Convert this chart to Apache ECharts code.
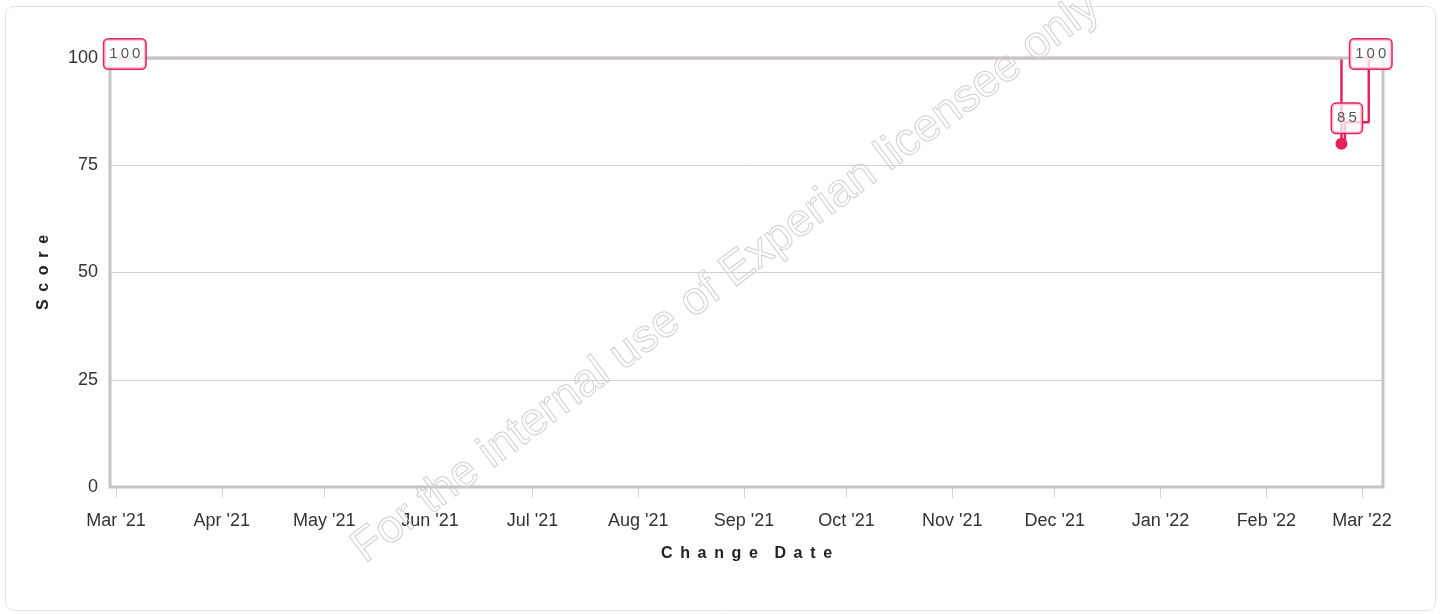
<!DOCTYPE html>
<html>
<head>
<meta charset="utf-8">
<script src="https://cdn.jsdelivr.net/npm/echarts@6/dist/echarts.min.js"></script>
<style>
html,body{margin:0;padding:0;background:#fff;}
#chart{width:1447px;height:614px;}
</style>
</head>
<body>
<div id="chart"></div>
<script>
// ---- data ----
const dates = ['2021-03-03', '2022-02-23', '2022-02-24', '2022-03-03'];
const scores = [100, 80, 85, 100];
const currentIndex = 1; // highlighted point (solid dot, no label)
const tickDates = ['2021-03-01','2021-04-01','2021-05-01','2021-06-01','2021-07-01','2021-08-01','2021-09-01','2021-10-01','2021-11-01','2021-12-01','2022-01-01','2022-02-01','2022-03-01'];
const tickLabels = ["Mar '21","Apr '21","May '21","Jun '21","Jul '21","Aug '21","Sep '21","Oct '21","Nov '21","Dec '21","Jan '22","Feb '22","Mar '22"];
const yTicks = [0, 25, 50, 75, 100];
const xAxisName = 'Change Date';
const yAxisName = 'Score';
const watermark = 'For the internal use of Experian licensee only';

function parseDay(s, h) {
  const p = s.split('-').map(Number);
  return new Date(p[0], p[1] - 1, p[2], h || 0).getTime();
}
function spaced(str) {
  return str.split(' ').map(w => w.split('').join(' \u2009')).join('  \u2009 ');
}

const tickTimes = tickDates.map(d => parseDay(d));
const xMin = parseDay('2021-02-27', 6);
const xMax = parseDay('2022-03-07', 4);
const RED = '#e5225a';

const linePairs = dates.map((d, i) => [parseDay(d), scores[i]]);
const pointData = dates.map((d, i) => {
  const isCur = i === currentIndex;
  return {
    value: [parseDay(d), scores[i]],
    symbolSize: isCur ? 12 : 11,
    itemStyle: { color: isCur ? RED : 'rgba(240,120,150,0.35)', opacity: 1 },
    label: { show: !isCur }
  };
});

const chart = echarts.init(document.getElementById('chart'), null, { renderer: 'canvas' });
chart.setOption({
  animation: false,
  grid: {
    left: 110, right: 64, top: 58, bottom: 127,
    show: true, z: 2,
    borderColor: '#c4c4c4', borderWidth: 3,
    backgroundColor: 'transparent'
  },
  xAxis: {
    type: 'value',
    min: xMin, max: xMax,
    scale: true,
    name: spaced(xAxisName),
    nameLocation: 'middle',
    nameGap: 59,
    nameTextStyle: { fontFamily: 'Liberation Sans', fontSize: 16, fontWeight: 'bold', color: '#222' },
    axisLine: { show: false },
    splitLine: { show: false },
    axisTick: {
      show: true, length: 11, customValues: tickTimes,
      lineStyle: { color: '#ccd6eb', width: 1 }
    },
    axisLabel: {
      customValues: tickTimes,
      margin: 25,
      fontFamily: 'Liberation Sans', fontSize: 18, color: '#333',
      formatter: function (v) {
        const i = tickTimes.indexOf(v);
        return i >= 0 ? tickLabels[i] : '';
      }
    }
  },
  yAxis: {
    type: 'value',
    min: yTicks[0], max: yTicks[yTicks.length - 1], interval: 25,
    name: spaced(yAxisName),
    nameLocation: 'middle',
    nameGap: 58,
    nameTextStyle: { fontFamily: 'Liberation Sans', fontSize: 16, fontWeight: 'bold', color: '#222' },
    axisLine: { show: false },
    axisTick: { show: false },
    splitLine: { show: true, lineStyle: { color: '#d0d0d0', width: 1 } },
    axisLabel: { margin: 12, fontFamily: 'Liberation Sans', fontSize: 18, color: '#333' }
  },
  series: [
    {
      type: 'line',
      step: 'end',
      z: 1,
      silent: true,
      showSymbol: false,
      symbol: 'none',
      data: linePairs,
      lineStyle: { color: RED, width: 2.5 }
    },
    {
      type: 'scatter',
      z: 3,
      symbol: 'circle',
      data: pointData,
      label: {
        position: 'inside',
        offset: [2, -4],
        formatter: function (p) { return String(p.value[1]).split('').join('\u2009'); },
        fontFamily: 'Liberation Sans',
        fontSize: 15,
        lineHeight: 17,
        color: '#555',
        backgroundColor: 'rgba(255,255,255,0.75)',
        borderColor: RED,
        borderWidth: 1.5,
        borderRadius: 4,
        padding: [6, 5]
      }
    }
  ],
  graphic: [
    {
      type: 'rect',
      silent: true,
      z: 0,
      shape: { x: 5.5, y: 6.5, width: 1430, height: 604, r: 8 },
      style: { fill: 'none', stroke: '#e2e2e2', lineWidth: 1 }
    },
    {
      type: 'text',
      silent: true,
      z: 10,
      x: 726, y: 278,
      rotation: 36.8 * Math.PI / 180,
      style: {
        x: 0, y: 0,
        text: watermark,
        font: '46px "Liberation Sans", Arial, sans-serif',
        fill: 'rgba(255,255,255,0)',
        stroke: '#d0d0d0',
        lineWidth: 1,
        align: 'center', verticalAlign: 'middle',
        textAlign: 'center', textVerticalAlign: 'middle'
      }
    }
  ]
});
</script>
</body>
</html>
